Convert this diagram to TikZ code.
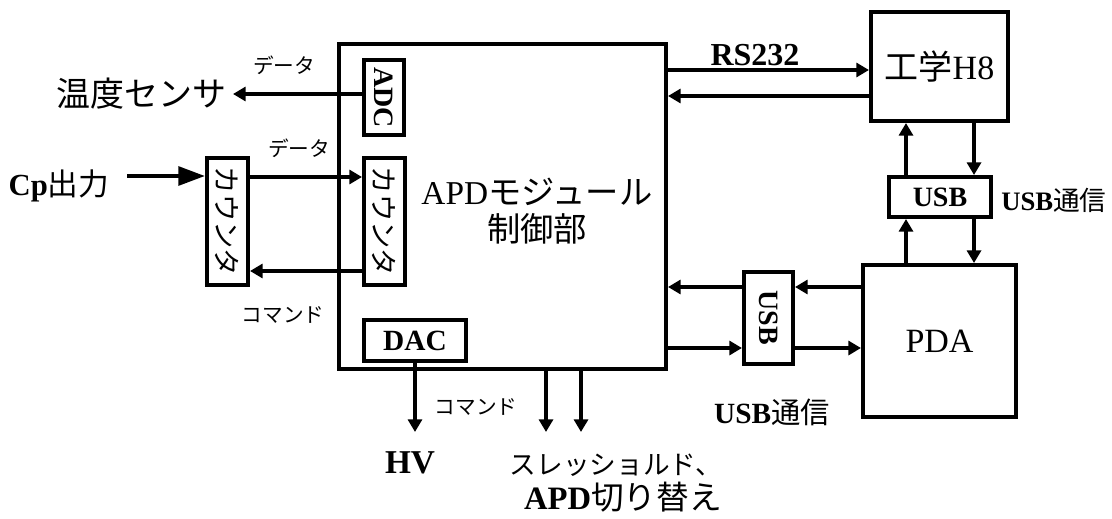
\documentclass[tikz,border=0pt]{standalone}
\usepackage{fontspec}
\usepackage{graphicx}
\setmainfont{Liberation Serif}
\newfontfamily\jp{Noto Sans CJK JP}
\usetikzlibrary{arrows.meta}
\newcommand\fs[1]{\fontsize{#1pt}{#1pt}\selectfont}
\newcommand\pbox[7]{\node[box,#6,minimum width={(#4-#2)*0.75pt},minimum height={(#5-#3)*0.75pt}] (#1) at ({(#2+#4)/2},{(#3+#5)/2}) {#7};}
\tikzset{
  box/.style={draw, line width=3pt, inner sep=0pt},
  ar/.style={line width=3pt, -{Triangle[length=9.5pt,width=10.5pt]}},
  bigar/.style={line width=3pt, -{Triangle[length=20pt,width=14pt]}},
  lbl/.style={inner sep=0pt},
}
\begin{document}
\begin{tikzpicture}[x=0.75pt,y=-0.75pt]
\useasboundingbox (0,0) rectangle (1112,518);
% boxes
\pbox{main}{339}{44}{666}{369}{}{}
\pbox{adc}{364}{60}{404}{135}{font=\fs{21}\bfseries}{\rotatebox{-90}{ADC}}
\pbox{ic}{364}{158}{405}{285}{font=\fs{20.5}\jp}{\rotatebox{-90}{カウンタ}}
\pbox{oc}{207}{158}{248}{285}{font=\fs{20.5}\jp}{\rotatebox{-90}{カウンタ}}
\pbox{dac}{364}{320}{466}{361}{font=\fs{22}\bfseries}{DAC}
\pbox{h8}{871}{12}{1008}{121}{font=\fs{25.5}}{{\jp 工学}H8}
\pbox{usbh}{889}{177}{991}{217}{font=\fs{21}\bfseries}{USB}
\pbox{pda}{863}{265}{1016}{417}{font=\fs{25.5}}{PDA}
\pbox{usbv}{744}{272}{793}{364}{font=\fs{21}\bfseries}{\rotatebox{-90}{USB}}
% main text
\node[lbl, font=\fontsize{25pt}{28pt}\selectfont, align=center] (mt) at (537,211) {APD{\jp モジュール}\\{\jp 制御部}};
% labels
\node[inner sep=0pt, inner xsep=5pt, anchor=east, font=\fs{25.5}\jp] (temp) at (233,94) {温度センサ};
\node[lbl, font=\fs{23}] (cp) at (59,186) {\textbf{Cp}{\jp 出力}};
\node[lbl, font=\fs{15.5}\jp] (d1) at (284,65) {データ};
\node[lbl, font=\fs{15.5}\jp] (d2) at (299,148) {データ};
\node[lbl, font=\fs{15.5}\jp] (cm1) at (283,315) {コマンド};
\node[lbl, font=\fs{15.5}\jp] (cm2) at (476,407) {コマンド};
\node[lbl, font=\fs{24}\bfseries] (rs) at (755,55) {RS232};
\node[lbl, font=\fs{20}\bfseries] (u1) at (1054,200) {USB{\jp\mdseries 通信}};
\node[lbl, font=\fs{22}\bfseries] (u2) at (772,412) {USB{\jp\mdseries 通信}};
\node[lbl, font=\fs{25}\bfseries] (hv) at (410,463) {HV};
\node[lbl, font=\fs{20}\jp] (th) at (616,465) {スレッショルド、};
\node[lbl, font=\fs{24.5}] (apd) at (623,497) {\textbf{APD}{\jp 切り替え}};
% helper coordinates
\coordinate (cpa) at (127,176);
\coordinate (r177) at (0,177);
\coordinate (r271) at (0,271);
\coordinate (r70) at (0,70);
\coordinate (r96) at (0,96);
\coordinate (r287) at (0,287);
\coordinate (r348) at (0,348);
\coordinate (c906) at (906,0);
\coordinate (c974) at (974,0);
\coordinate (hvend) at (415,432);
\coordinate (t1) at (546,432);
\coordinate (t2) at (581,432);
% connectors
\draw[ar] (adc.west |- temp.east) -- (temp.east);
\draw[bigar] (cpa) -- (cpa -| oc.west);
\draw[ar] (oc.east |- r177) -- (ic.west |- r177);
\draw[ar] (ic.west |- r271) -- (oc.east |- r271);
\draw[ar] (main.east |- r70) -- (h8.west |- r70);
\draw[ar] (h8.west |- r96) -- (main.east |- r96);
\draw[ar] (usbh.north -| c906) -- (h8.south -| c906);
\draw[ar] (h8.south -| c974) -- (usbh.north -| c974);
\draw[ar] (pda.north -| c906) -- (usbh.south -| c906);
\draw[ar] (usbh.south -| c974) -- (pda.north -| c974);
\draw[ar] (pda.west |- r287) -- (usbv.east |- r287);
\draw[ar] (usbv.west |- r287) -- (main.east |- r287);
\draw[ar] (main.east |- r348) -- (usbv.west |- r348);
\draw[ar] (usbv.east |- r348) -- (pda.west |- r348);
\draw[ar] (dac.south) -- (hvend);
\draw[ar] (main.south -| t1) -- (t1);
\draw[ar] (main.south -| t2) -- (t2);
\end{tikzpicture}
\end{document}
